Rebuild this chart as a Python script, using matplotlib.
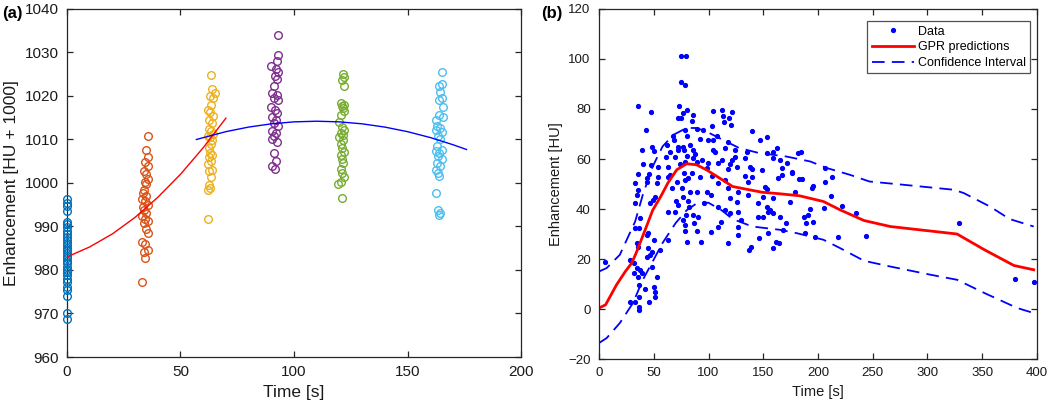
import matplotlib
matplotlib.use("Agg")
import matplotlib.pyplot as plt
from matplotlib.lines import Line2D

plt.rcParams['font.family'] = ['Liberation Sans', 'DejaVu Sans']

# ---------------- Panel (a) data ----------------
c1_x = [0.0] * 31
c1_y = [996.3, 995.5, 994.8, 993.5, 991.0, 990.5, 989.8, 989.0, 988.3, 987.5, 987.0, 986.3, 985.8, 985.0,
        984.5, 984.0, 983.3, 982.8, 982.0, 981.5, 980.8, 980.0, 979.5, 978.8, 978.0, 977.3, 976.0, 975.3,
        974.0, 970.0, 968.7]
c2_x = [35.5, 35.0, 35.5, 34.5, 35.5, 34.0, 35.0, 35.5, 34.5, 35.0, 34.0, 33.5, 35.0, 33.0, 34.5, 35.5,
        33.5, 34.0, 35.0, 33.0, 34.5, 35.5, 34.0, 35.0, 35.5, 33.0, 34.5, 35.5, 34.0, 34.5, 33.0]
c2_y = [1010.8, 1007.5, 1006.0, 1004.8, 1004.0, 1002.8, 1002.0, 1001.0, 1000.3, 999.7, 998.5, 997.8, 997.0,
        996.3, 995.8, 995.0, 994.5, 993.8, 993.0, 992.3, 991.8, 991.3, 990.7, 989.5, 988.4, 986.5, 986.0,
        984.6, 984.2, 982.7, 977.2]
c3_x = [63.5, 64.0, 65.0, 63.0, 64.5, 63.5, 62.0, 63.0, 64.5, 62.5, 64.0, 62.5, 63.5, 64.5, 62.0, 63.0,
        64.0, 63.5, 62.5, 63.0, 64.0, 62.5, 63.5, 62.0, 64.0, 62.5, 63.5, 62.5, 63.0, 62.0, 62.0]
c3_y = [1024.8, 1021.5, 1020.8, 1020.0, 1019.5, 1018.0, 1016.8, 1016.3, 1015.5, 1014.5, 1013.8, 1012.5,
        1012.0, 1011.3, 1010.8, 1010.5, 1009.8, 1009.0, 1008.0, 1007.0, 1006.5, 1006.0, 1005.0, 1004.3,
        1003.0, 1002.8, 1001.3, 999.5, 998.8, 998.3, 991.7]
c4_x = [93.0, 93.0, 92.5, 90.0, 92.0, 93.0, 91.5, 92.5, 91.0, 90.5, 92.5, 91.0, 93.0, 90.0, 91.5, 92.5,
        90.5, 92.0, 91.0, 93.0, 90.5, 92.0, 91.0, 90.5, 92.5, 91.0, 92.0, 90.5, 91.5]
c4_y = [1034.0, 1029.4, 1028.0, 1026.8, 1026.3, 1025.5, 1024.5, 1024.0, 1022.2, 1020.8, 1020.3, 1019.5,
        1019.0, 1017.5, 1016.8, 1016.0, 1015.2, 1014.5, 1013.8, 1013.0, 1012.0, 1011.5, 1010.7, 1010.0,
        1009.5, 1006.8, 1005.0, 1003.8, 1003.3]
c5_x = [121.5, 122.0, 121.0, 122.0, 120.5, 122.0, 121.0, 121.5, 122.0, 120.5, 120.0, 121.0, 122.0, 120.5,
        121.5, 120.0, 121.5, 120.5, 121.0, 122.0, 120.5, 121.0, 121.5, 120.5, 121.0, 122.0, 120.5, 119.5,
        121.0]
c5_y = [1025.0, 1024.3, 1023.7, 1022.3, 1018.5, 1018.0, 1017.7, 1017.3, 1016.5, 1015.7, 1014.0, 1012.8,
        1012.2, 1011.5, 1011.0, 1010.5, 1009.8, 1009.0, 1008.0, 1007.2, 1006.4, 1005.6, 1004.5, 1003.3,
        1002.2, 1001.4, 1000.3, 999.8, 996.5]
c6_x = [165.0, 165.0, 164.0, 164.5, 165.0, 164.0, 165.5, 164.0, 165.5, 162.5, 163.0, 164.5, 162.5, 165.0,
        163.5, 164.5, 163.0, 165.0, 162.5, 164.0, 163.5, 165.0, 163.0, 164.5, 162.5, 163.5, 164.0, 162.5,
        163.5, 164.5, 164.0]
c6_y = [1025.6, 1022.8, 1022.4, 1021.0, 1019.5, 1019.0, 1017.5, 1015.6, 1015.2, 1014.5, 1013.0, 1012.6,
        1012.2, 1011.8, 1010.8, 1010.0, 1008.5, 1007.6, 1007.3, 1006.9, 1006.1, 1005.4, 1004.6, 1003.8,
        1003.1, 1002.3, 1001.5, 997.7, 993.8, 993.0, 992.6]

fit1_x = [0, 10, 20, 30, 40, 50, 60, 70]
fit1_y = [983.0, 985.3, 988.3, 992.1, 996.7, 1002.0, 1008.1, 1014.9]
fit2_x = [57, 70, 80, 90, 100, 110, 120, 130, 140, 150, 160, 170, 176]
fit2_y = [1010.0, 1011.8, 1012.85, 1013.6, 1014.05, 1014.2, 1014.05, 1013.6, 1012.85, 1011.8, 1010.45,
          1008.8, 1007.7]

cluster_colors = ['#0072BD', '#D95319', '#EDB120', '#7E2F8E', '#77AC30', '#4DBEEE']

# ---------------- Panel (b) data ----------------
data_x = [74.9, 79.5, 74.9, 78.5, 35.3, 47.5, 73.4, 80.1, 77, 86.2, 72.4, 74.9, 84.6, 104.4, 42.6, 78.5,
          89.2, 95.3, 67.9, 80.1, 104.4, 99.8, 92.2, 39, 48.7, 62.4, 68.8, 72.4, 83.1, 77, 86.2, 50.5, 64.8,
          72.4, 77.6, 87.7, 80.1, 104.4, 60.9, 69.4, 86.2, 93.8, 40.5, 47.5, 54.2, 63.4, 74, 78.5, 89.2,
          99.8, 98.3, 35.9, 45.7, 54.2, 64.8, 77.9, 81.6, 84.6, 92.2, 43.5,
          62.7, 102.9, 33, 43.5, 52.7, 70.9, 78.5, 34.4, 35.9, 51.2, 66.4, 75.5, 83.1, 89.2, 98.3, 102.3,
          33, 46.7, 49.7, 70.1, 77, 81.6, 72.4, 63.3, 69.4, 82.2, 96.2, 79.2, 86.2, 90.2, 76.4, 87, 78.2,
          89.2, 78.5, 102.3, 80.1, 93.2, 62.7, 37.4, 33, 36.2, 45.1, 50.5, 43.5, 34.4, 35.3, 45.1, 48.1,
          55.7, 46.7, 43.5, 28.3, 32.3, 34.4, 37.4, 32.3, 35.3, 39.6, 48.1, 52.7, 36.2, 42.3, 50.5, 51.2,
          51.2, 36.2, 28.3, 32.9, 45.7, 36.2, 36.5, 5.8,
          112, 121.2, 113.6, 118.7, 114.5, 120.6, 102.9, 139.4, 107.5, 153.1, 147, 118.1, 124.2, 106, 115,
          134.8, 153.1, 162.2, 159.2, 112, 124.2, 121.2, 133.3, 159.2, 165.3, 109, 119.6, 171.4, 125.7,
          137.8, 139.4, 118.1, 166.8, 148.5, 175.9, 133.3, 139.4, 166.8, 109, 163.8, 136.3, 115, 118.1,
          127.3, 136.3, 151.4, 153.1, 150, 159.2, 178.9, 174.4, 119.6, 125.7, 109, 115, 119.6, 127.3, 145.4,
          153.1, 156.2, 154.6, 159.2, 165.3, 145.4, 150,
          108.5, 111.5, 117.6, 126.7, 126.7, 130, 137.3, 138.8, 146.4, 154, 159, 161.5, 164.5, 167.6, 170.6,
          182, 184.5, 176, 182.7, 185.7, 195.7, 194.2, 206.4, 206.4, 212.5, 212, 222.3, 234.7, 205.4, 192.7,
          191.2, 187.5, 189.1, 195.8, 188.2, 197.3, 217.9, 243.4, 328.7, 380.2, 397.5]
data_y = [101.3, 101.3, 90.7, 89.5, 81.3, 78.8, 81, 79.7, 78.4, 77.7, 76.4, 76.4, 75.3, 79.3, 71.5, 71.7,
          72.1, 71.7, 69.3, 69.3, 67.7, 67.7, 68.1, 63.7, 64.8, 65.7, 67.7, 64.8, 65.7, 65, 63.7, 63.3, 63,
          63.5, 63.7, 62.1, 61.3, 63.7, 61, 61, 60.6, 59.7, 58, 57.7, 57, 57, 58, 59, 59,
          58.4, 56.4, 54.1, 54.1, 53, 53.7, 54.4, 52.4, 54.4, 53, 52.6,
          53, 53.3, 50.4, 50.7, 50.4, 51, 51.7, 45.7, 47.7, 44.8, 48.4, 48.4, 46.7, 47, 47, 45.7,
          42.4, 42.4, 43.5, 43.1, 44.8, 43.1, 41.7, 38.7, 39, 41, 42.4, 37.7, 37.7, 37, 35.7, 34.4, 33.7,
          31.3, 31.3, 31, 27, 27, 27.7, 36.4, 32.4, 32.4, 30.4, 27.7, 29.7, 26.4, 25, 24.4, 23,
          23.7, 21.7, 21, 19.7, 18.4, 16.4, 15.7, 14.4, 13, 14.4, 17, 13, 9.7, 8, 9, 6.7,
          5, 5, 3, 2.7, 2.7, 1, -0.3, 18.8,
          79.7, 78.7, 77, 76.4, 74.7, 73.7, 73.3, 71.3, 69, 68.7, 67.5, 67, 63.7, 63, 64.4,
          63, 62.4, 64.4, 63, 59.7, 60.8, 59.7, 60.4, 60.4, 59.7, 58.4, 58.1, 58.4, 56.8,
          56.8, 56, 56, 56.4, 55.7, 55, 53.3, 53, 53.7, 50.4, 52.4, 51, 51.7, 48.4,
          47, 45.7, 49, 48, 45, 44.4, 47, 43, 44.4, 42.7, 41, 39.7, 38.4, 39, 42.4,
          41, 39.7, 39, 38.6, 37, 36.8, 37,
          33, 35, 26.4, 29.7, 33, 35.7, 23.7, 25, 28.4, 30.4, 24.4, 27, 26.4, 31.7, 34.4,
          62.4, 63, 54.4, 52, 52, 49.3, 48.6, 56.4, 51, 52.7, 45.3, 41.3, 38.4, 40.6, 40,
          37.7, 36.8, 34.4, 35, 30.4, 29, 28.7, 29.3, 34.6, 12.1, 10.8]

gpr_x = [0, 6, 16, 24, 30, 34, 42, 49, 57, 63, 71, 80, 89, 98, 110, 122, 137, 149, 165, 183, 205, 220,
         242, 266, 327, 352, 379, 397]
gpr_y = [0.4, 1.7, 9.7, 15.0, 18.5, 22.5, 31.5, 39.5, 45.5, 50.5, 55.7, 58.1, 57.7, 55.7, 52.4, 49, 47.7,
         46.7, 46.1, 45.3, 43, 39.7, 35.4, 33, 30, 23.7, 17.4, 15.7]
ci_up_x = [0, 7, 19, 33, 40, 49, 58, 68, 80, 89, 98, 116, 128, 146, 171, 193, 208, 229, 247, 278, 324,
           333, 357, 375, 397]
ci_up_y = [15, 16.4, 21.7, 35, 45.7, 57, 65, 69.7, 72.4, 72.4, 71, 67, 64.4, 62.4, 61, 59, 56.4, 53.7, 51,
           49.7, 47.7, 46.4, 41, 36, 33]
ci_lo_x = [0, 7, 19, 31, 40, 49, 58, 70, 80, 90, 100, 112, 122, 140, 165, 180, 205, 220, 242, 266, 303,
           327, 352, 382, 397]
ci_lo_y = [-13.6, -11.6, -5.6, 2.4, 11.7, 19, 26.4, 34.4, 39.5, 42.5, 42.5, 39.5, 36, 33, 31.7, 30.4, 27.7,
           24.4, 19.3, 17, 13.7, 11.7, 6.4, 0.4, -1.6]

legend_labels = ['Data', 'GPR predictions', 'Confidence Interval']

# ---------------- Figure ----------------
fig = plt.figure(figsize=(10.5, 4.08), dpi=100)
axc = '#262626'

def style(ax, fs):
    for s in ax.spines.values():
        s.set_color(axc)
        s.set_linewidth(0.9)
    ax.tick_params(direction='in', top=True, right=True, length=4, width=0.9,
                   colors=axc, labelsize=fs, labelcolor='#1a1a1a', pad=6)

# Panel (a)
ax1 = fig.add_axes([0.0638, 0.125, 0.4324, 0.853])
clusters = [(c1_x, c1_y), (c2_x, c2_y), (c3_x, c3_y), (c4_x, c4_y), (c5_x, c5_y), (c6_x, c6_y)]
for (cx, cy), col in zip(clusters, cluster_colors):
    ax1.plot(cx, cy, linestyle='none', marker='o', markersize=5.5, markerfacecolor='none',
             markeredgecolor=col, markeredgewidth=1.0, clip_on=False, zorder=3)
ax1.plot(fit1_x, fit1_y, color='#FF0000', lw=1.0, zorder=4)
ax1.plot(fit2_x, fit2_y, color='#0000FF', lw=1.0, zorder=4)
ax1.set_xlim(0, 200)
ax1.set_ylim(960, 1040)
ax1.set_xticks([0, 50, 100, 150, 200])
ax1.set_yticks(range(960, 1041, 10))
style(ax1, 11)
ax1.set_xlabel('Time [s]', fontsize=12.5, color='#1a1a1a', labelpad=4)
ax1.set_ylabel('Enhancement [HU + 1000]', fontsize=12.5, color='#1a1a1a', labelpad=4)
fig.text(0.002, 0.968, '(a)', fontsize=12, fontweight='bold', va='center', ha='left')

# Panel (b)
ax2 = fig.add_axes([0.5705, 0.120, 0.4171, 0.858])
ax2.plot(data_x, data_y, linestyle='none', marker='.', markersize=5.5, color='#0000FF', clip_on=False)
ax2.plot(gpr_x, gpr_y, color='#FF0000', lw=2.0)
ax2.plot(ci_up_x, ci_up_y, color='#0000FF', lw=1.3, dashes=(7, 4))
ax2.plot(ci_lo_x, ci_lo_y, color='#0000FF', lw=1.3, dashes=(7, 4))
ax2.set_xlim(0, 400)
ax2.set_ylim(-20, 120)
ax2.set_xticks(range(0, 401, 50))
ax2.set_yticks(range(-20, 121, 20))
style(ax2, 9.5)
ax2.set_xlabel('Time [s]', fontsize=10.5, color='#1a1a1a', labelpad=4)
ax2.set_ylabel('Enhancement [HU]', fontsize=10.5, color='#1a1a1a', labelpad=4)
fig.text(0.515, 0.968, '(b)', fontsize=12, fontweight='bold', va='center', ha='left')

handles = [Line2D([], [], linestyle='none', marker='.', markersize=5.5, color='#0000FF'),
           Line2D([], [], color='#FF0000', lw=2.0),
           Line2D([], [], color='#0000FF', lw=1.3, dashes=(7, 4))]
leg = ax2.legend(handles, legend_labels, loc='upper right', fontsize=9, frameon=True, fancybox=False,
                 edgecolor=axc, borderpad=0.35, labelspacing=0.3, handlelength=3.4, handletextpad=0.3,
                 borderaxespad=0, bbox_to_anchor=(0.985, 0.965))
leg.get_frame().set_linewidth(0.9)

fig.savefig('out.png', dpi=100)
